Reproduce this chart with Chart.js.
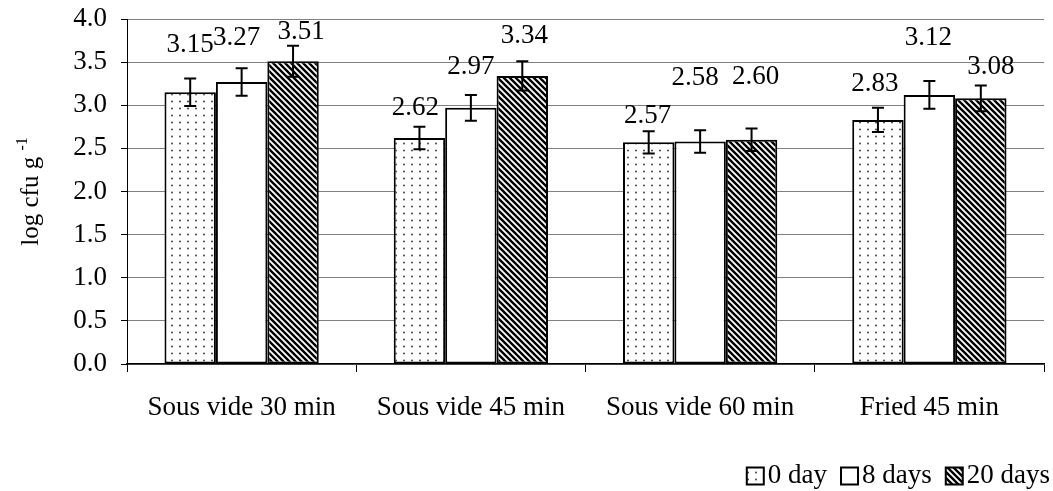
<!DOCTYPE html>
<html>
<head>
<meta charset="utf-8">
<script src="https://cdn.jsdelivr.net/npm/chart.js@4.4.1/dist/chart.umd.min.js"></script>
<style>
  html, body { margin: 0; padding: 0; background: #fff; }
  #wrap { width: 1053px; height: 491px; position: relative; }
</style>
</head>
<body>
<div id="wrap"><canvas id="chart"></canvas></div>
<script>
// chart data
const categories = ['Sous vide 30 min', 'Sous vide 45 min', 'Sous vide 60 min', 'Fried 45 min'];
const seriesNames = ['0 day', '8 days', '20 days'];
const day0 = [3.15, 2.62, 2.57, 2.83];
const day8 = [3.27, 2.97, 2.58, 3.12];
const day20 = [3.51, 3.34, 2.60, 3.08];
const err0 = [0.16, 0.13, 0.13, 0.14];
const err8 = [0.16, 0.15, 0.13, 0.16];
const err20 = [0.18, 0.17, 0.13, 0.15];
const yTicks = [0, 0.5, 1, 1.5, 2, 2.5, 3, 3.5, 4];

// where the value labels sit (axis units) and a small sideways nudge (px)
const labelAt = [
  [3.70, 2.97, 2.88, 3.25],
  [3.78, 3.44, 3.32, 3.78],
  [3.85, 3.80, 3.33, 3.44]
];
const labelDx = [
  [0, -4, -1, -3],
  [-5, 0, -5, -1],
  [8, 2, 4, 10]
];

const FONT = "'Liberation Serif', 'Times New Roman', serif";
const FS = 27;

function dotPattern() {
  const c = document.createElement('canvas');
  c.width = 8; c.height = 7;
  const g = c.getContext('2d');
  g.fillStyle = '#fff';
  g.fillRect(0, 0, 8, 7);
  g.fillStyle = '#444';
  g.beginPath();
  g.arc(4, 3.5, 1, 0, Math.PI * 2);
  g.fill();
  return g.createPattern(c, 'repeat');
}

function hatchPattern() {
  const c = document.createElement('canvas');
  c.width = 6; c.height = 6;
  const g = c.getContext('2d');
  g.fillStyle = '#fff';
  g.fillRect(0, 0, 6, 6);
  g.strokeStyle = '#000';
  g.lineWidth = 2.4;
  g.beginPath();
  for (let k = -6; k <= 6; k += 6) {
    g.moveTo(k - 1, -1);
    g.lineTo(k + 7, 7);
  }
  g.stroke();
  return g.createPattern(c, 'repeat');
}

const errors = [err0, err8, err20];

const errorBars = {
  id: 'errorBars',
  afterDatasetsDraw(chart) {
    const ctx = chart.ctx;
    const y = chart.scales.y;
    ctx.save();
    ctx.strokeStyle = '#000';
    ctx.lineWidth = 2;
    chart.data.datasets.forEach((ds, di) => {
      chart.getDatasetMeta(di).data.forEach((bar, i) => {
        const v = ds.data[i], e = errors[di][i];
        const top = y.getPixelForValue(v + e);
        const bot = y.getPixelForValue(v - e);
        ctx.beginPath();
        ctx.moveTo(bar.x, top); ctx.lineTo(bar.x, bot);
        ctx.moveTo(bar.x - 6, top); ctx.lineTo(bar.x + 6, top);
        ctx.moveTo(bar.x - 6, bot); ctx.lineTo(bar.x + 6, bot);
        ctx.stroke();
      });
    });
    ctx.restore();
  }
};

const valueLabels = {
  id: 'valueLabels',
  afterDatasetsDraw(chart) {
    const ctx = chart.ctx;
    const y = chart.scales.y;
    ctx.save();
    ctx.fillStyle = '#000';
    ctx.font = FS + 'px ' + FONT;
    ctx.textAlign = 'center';
    ctx.textBaseline = 'middle';
    chart.data.datasets.forEach((ds, di) => {
      chart.getDatasetMeta(di).data.forEach((bar, i) => {
        ctx.fillText(ds.data[i].toFixed(2), bar.x + labelDx[di][i], y.getPixelForValue(labelAt[di][i]));
      });
    });
    ctx.restore();
  }
};

const yTitle = {
  id: 'yTitle',
  afterDraw(chart) {
    const ctx = chart.ctx;
    const a = chart.chartArea;
    ctx.save();
    ctx.translate(31, (a.top + a.bottom) / 2);
    ctx.rotate(-Math.PI / 2);
    ctx.fillStyle = '#000';
    ctx.textBaseline = 'alphabetic';
    ctx.font = '25px ' + FONT;
    const main = 'log cfu g ';
    const wMain = ctx.measureText(main).width;
    ctx.font = '16px ' + FONT;
    const sup = '-1';
    const wSup = ctx.measureText(sup).width;
    const x0 = -(wMain + wSup) / 2;
    ctx.font = '25px ' + FONT;
    ctx.fillText(main, x0, 7);
    ctx.font = '16px ' + FONT;
    ctx.fillText(sup, x0 + wMain, -4);
    ctx.restore();
  }
};

const fills = [dotPattern(), '#fff', hatchPattern()];
const values = [day0, day8, day20];

// legend drawn by hand so the box sits tight against its text, like the original
const bottomLegend = {
  id: 'bottomLegend',
  afterDraw(chart) {
    const ctx = chart.ctx;
    ctx.save();
    ctx.font = FS + 'px ' + FONT;
    ctx.textBaseline = 'middle';
    ctx.fillStyle = '#000';
    const box = 17, gap = 4, itemGap = 14, cy = 476;
    const widths = seriesNames.map(s => ctx.measureText(s).width);
    let total = widths.reduce((a, w) => a + box + gap + w, 0) + itemGap * (seriesNames.length - 1);
    let x = chart.width - 3 - total;
    seriesNames.forEach((s, i) => {
      ctx.fillStyle = fills[i];
      ctx.fillRect(x, cy - box / 2, box, box);
      ctx.strokeStyle = '#000';
      ctx.lineWidth = 2;
      ctx.strokeRect(x, cy - box / 2, box, box);
      ctx.fillStyle = '#000';
      ctx.fillText(s, x + box + gap, cy);
      x += box + gap + widths[i] + itemGap;
    });
    ctx.restore();
  }
};

new Chart(document.getElementById('chart'), {
  type: 'bar',
  data: {
    labels: categories,
    datasets: seriesNames.map((name, i) => ({
      label: name,
      data: values[i],
      backgroundColor: fills[i],
      borderColor: '#000',
      borderWidth: 2,
      borderSkipped: false,
      barPercentage: 1,
      categoryPercentage: 0.673
    }))
  },
  options: {
    responsive: true,
    maintainAspectRatio: false,
    animation: false,
    layout: { padding: { top: 19, right: 9, left: 0, bottom: 0 } },
    plugins: {
      legend: { display: false },
      tooltip: { enabled: false }
    },
    scales: {
      x: {
        grid: { display: true, drawOnChartArea: false, drawTicks: true, tickLength: 8, color: '#000', offset: true },
        border: { display: true, color: '#000', width: 1.5 },
        ticks: { color: '#000', font: { family: FONT, size: FS }, padding: 20, maxRotation: 0 },
        afterFit(scale) { scale.height = 127; }
      },
      y: {
        min: 0,
        max: 4,
        afterBuildTicks(scale) { scale.ticks = yTicks.map(v => ({ value: v })); },
        grid: { color: '#808080', lineWidth: 1, drawTicks: true, tickLength: 6, tickColor: '#000' },
        border: { display: true, color: '#000', width: 1 },
        ticks: {
          color: '#000',
          font: { family: FONT, size: FS },
          padding: 14,
          callback: v => v.toFixed(1)
        },
        afterFit(scale) {
          scale.width = 127;
          scale.paddingTop = 0;
          scale.paddingBottom = 0;
        }
      }
    }
  },
  plugins: [errorBars, valueLabels, yTitle, bottomLegend]
});
</script>
</body>
</html>
